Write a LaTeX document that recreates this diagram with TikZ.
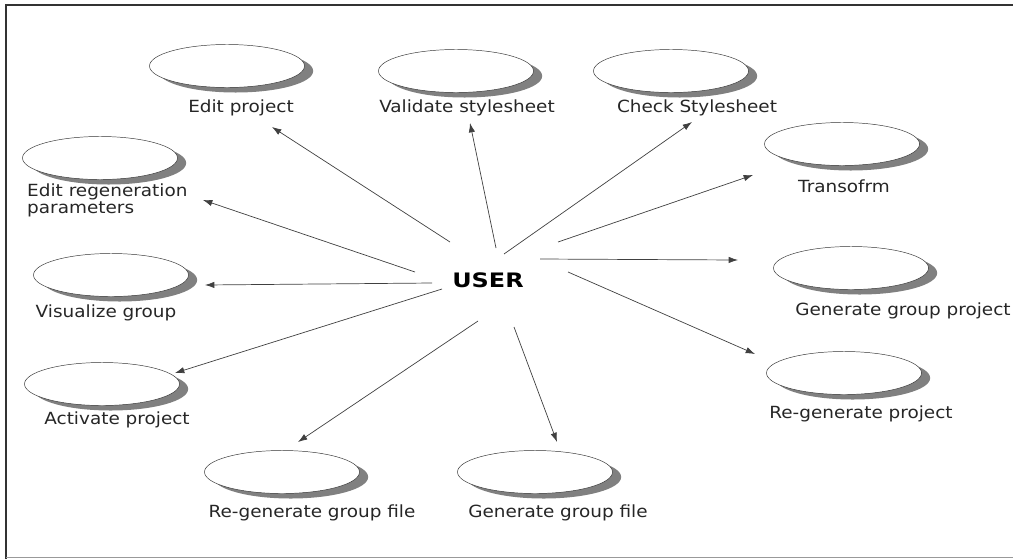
\documentclass[tikz,border=0pt]{standalone}
\usepackage{fontspec}
\setmainfont{DejaVu Sans}[FakeStretch=1.1]
\newfontfamily\userfont{DejaVu Sans}[FakeStretch=1.2]
\usetikzlibrary{shapes.geometric,shadows,arrows.meta}

\tikzset{
  usecase/.style={ellipse, draw=black!80, fill=white, inner sep=0,
    minimum width=46.5mm, minimum height=12.9mm,
    drop shadow={shadow xshift=2.6mm, shadow yshift=-1.5mm, fill=black!50, opacity=1}},
  uclabel/.style={anchor=base, inner sep=0, text=black!85,
    font=\fontsize{14.3}{14.5}\selectfont},
  assoc/.style={->, draw=black!75, line width=0.6pt}
}

\begin{document}
\begin{tikzpicture}[x=0.3mm, y=-0.3mm, >={Latex[length=2.8mm,width=1.9mm]}]
\useasboundingbox (0,0) rectangle (1013,559);
\draw[line width=0.6mm, black!80] (6,559)--(6,5)--(1013,5);
\draw[black!40] (6,557)--(1013,557);

\node[font=\userfont\bfseries\fontsize{17}{17}\selectfont, inner sep=0] (user) at (488,280) {USER};

% use cases
\foreach \n/\p in {ep/{227,66}, vs/{456,71}, cs/{671,71}, tr/{842,144}, ggp/{851,268},
                   rp/{844,373}, erp/{100,158}, vg/{111,275}, ap/{102,384},
                   rgf/{282,472}, ggf/{535,472}}
{
    \node[usecase] (\n) at (\p) {};
}

\foreach \n/\p/\t in {ep/{241,112}/Edit project, vs/{467,112}/Validate stylesheet,
                      cs/{697,112}/Check Stylesheet, tr/{844,192}/Transofrm,
                      ggp/{903,315}/Generate group project, rp/{861,418}/Re-generate project,
                      vg/{106,317}/Visualize group, ap/{117,424}/Activate project,
                      rgf/{312,517}/Re-generate group file, ggf/{558,517}/Generate group file}
{
    \node[uclabel] (\n-l) at (\p) {\t};
}
\node[uclabel, anchor=west, align=left] (erp-l) at (27,200) {Edit regeneration\\parameters};

% associations
\foreach \n/\s/\e in {ep/{-38,-38}/{45,61}, vs/{8,-32}/{14,52}, cs/{16,-26}/{21,51},
                      tr/{70,-38}/{-89,31}, ggp/{52,-21}/{-113,-8}, rp/{80,-8}/{-89,-19},
                      erp/{-73,-8}/{103,42}, vg/{-56,3}/{94,10}, ap/{-46,9}/{73,-11},
                      rgf/{-10,41}/{16,-30}, ggf/{26,47}/{22,-30}}
{
    \draw[assoc] ([shift={(\s)}]user.center) -- ([shift={(\e)}]\n.center);
}
\end{tikzpicture}
\end{document}
